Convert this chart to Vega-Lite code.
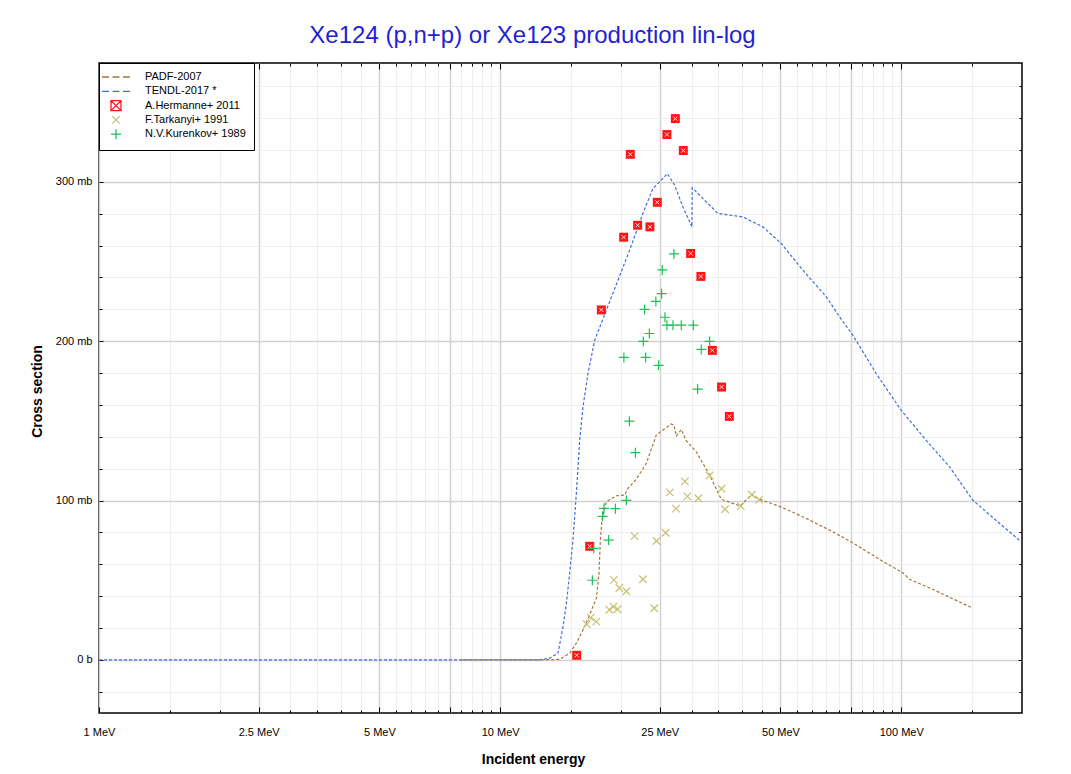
{
  "$schema": "https://vega.github.io/schema/vega-lite/v6.json",
  "width": 923,
  "height": 650,
  "autosize": "none",
  "padding": {"left": 99, "top": 63, "right": 49, "bottom": 61},
  "background": "white",
  "config": {"view": {"stroke": "black", "strokeWidth": 1.5}, "font": "Liberation Sans"},
  "title": {"text": "Xe124 (p,n+p) or Xe123 production lin-log", "fontSize": 24, "font": "Liberation Sans", "fontWeight": "normal", "color": "#1f1fd6", "anchor": "middle", "offset": 15, "dx": -28},
  "data": {"values": [
    {"s":"PADF-2007","e":8,"v":0},{"s":"PADF-2007","e":12,"v":0},{"s":"PADF-2007","e":13.5,"v":0.2},{"s":"PADF-2007","e":14.08,"v":0.4},{"s":"PADF-2007","e":14.91,"v":4.2},{"s":"PADF-2007","e":15.49,"v":10.5},{"s":"PADF-2007","e":16.25,"v":20.9},{"s":"PADF-2007","e":17.38,"v":38.7},{"s":"PADF-2007","e":17.64,"v":54.4},{"s":"PADF-2007","e":17.78,"v":75.2},{"s":"PADF-2007","e":17.94,"v":87.8},{"s":"PADF-2007","e":18.4,"v":99.2},{"s":"PADF-2007","e":19.49,"v":103},{"s":"PADF-2007","e":20.44,"v":103.4},{"s":"PADF-2007","e":20.83,"v":107.6},{"s":"PADF-2007","e":21.86,"v":113.5},{"s":"PADF-2007","e":23.14,"v":123.3},{"s":"PADF-2007","e":24.51,"v":141.1},{"s":"PADF-2007","e":25.46,"v":144.2},{"s":"PADF-2007","e":26.72,"v":148},{"s":"PADF-2007","e":27.12,"v":147.3},{"s":"PADF-2007","e":27.5,"v":140.4},{"s":"PADF-2007","e":28.29,"v":144.6},{"s":"PADF-2007","e":29.12,"v":137.5},{"s":"PADF-2007","e":30.83,"v":130.6},{"s":"PADF-2007","e":33.28,"v":116},{"s":"PADF-2007","e":35.59,"v":100.8},{"s":"PADF-2007","e":39.65,"v":96.6},{"s":"PADF-2007","e":42.36,"v":103.8},{"s":"PADF-2007","e":44.34,"v":100.8},{"s":"PADF-2007","e":50.22,"v":95.9},{"s":"PADF-2007","e":57.96,"v":88.8},{"s":"PADF-2007","e":67.5,"v":80.4},{"s":"PADF-2007","e":75.7,"v":73.5},{"s":"PADF-2007","e":88.3,"v":63.1},{"s":"PADF-2007","e":100.9,"v":54.7},{"s":"PADF-2007","e":104.8,"v":50.6},{"s":"PADF-2007","e":119.8,"v":44.3},{"s":"PADF-2007","e":149.3,"v":33},
    {"s":"TENDL-2017 *","e":1,"v":0},{"s":"TENDL-2017 *","e":12.5,"v":0},{"s":"TENDL-2017 *","e":13.29,"v":1.1},{"s":"TENDL-2017 *","e":13.94,"v":4.2},{"s":"TENDL-2017 *","e":14.35,"v":20.9},{"s":"TENDL-2017 *","e":14.63,"v":35.5},{"s":"TENDL-2017 *","e":14.91,"v":54.4},{"s":"TENDL-2017 *","e":15.19,"v":75.2},{"s":"TENDL-2017 *","e":15.49,"v":104.5},{"s":"TENDL-2017 *","e":15.79,"v":137.9},{"s":"TENDL-2017 *","e":16.09,"v":158.8},{"s":"TENDL-2017 *","e":16.56,"v":179.7},{"s":"TENDL-2017 *","e":17.21,"v":200.6},{"s":"TENDL-2017 *","e":18.4,"v":219.4},{"s":"TENDL-2017 *","e":19.67,"v":238.2},{"s":"TENDL-2017 *","e":21.03,"v":257.1},{"s":"TENDL-2017 *","e":22.7,"v":280.1},{"s":"TENDL-2017 *","e":24.03,"v":295.7},{"s":"TENDL-2017 *","e":24.98,"v":299.9},{"s":"TENDL-2017 *","e":26.12,"v":305.1},{"s":"TENDL-2017 *","e":27.23,"v":297.8},{"s":"TENDL-2017 *","e":28.56,"v":284.2},{"s":"TENDL-2017 *","e":30.07,"v":271.7},{"s":"TENDL-2017 *","e":30.12,"v":296.2},{"s":"TENDL-2017 *","e":34.9,"v":280.1},{"s":"TENDL-2017 *","e":40.29,"v":277.9},{"s":"TENDL-2017 *","e":45.18,"v":271.7},{"s":"TENDL-2017 *","e":50.22,"v":261.3},{"s":"TENDL-2017 *","e":56.85,"v":244.5},{"s":"TENDL-2017 *","e":65.03,"v":227.8},{"s":"TENDL-2017 *","e":70.2,"v":215.2},{"s":"TENDL-2017 *","e":75.7,"v":203.8},{"s":"TENDL-2017 *","e":86.6,"v":179.7},{"s":"TENDL-2017 *","e":99.9,"v":156.7},{"s":"TENDL-2017 *","e":115.3,"v":137.9},{"s":"TENDL-2017 *","e":131.9,"v":121.2},{"s":"TENDL-2017 *","e":150.7,"v":100.3},{"s":"TENDL-2017 *","e":175.7,"v":85.7},{"s":"TENDL-2017 *","e":198.9,"v":74.2},
    {"s":"A.Hermanne+ 2011","e":27.34,"v":339.6},{"s":"A.Hermanne+ 2011","e":26.05,"v":329.6},{"s":"A.Hermanne+ 2011","e":21.11,"v":317.2},{"s":"A.Hermanne+ 2011","e":28.62,"v":319.6},{"s":"A.Hermanne+ 2011","e":24.65,"v":287.1},{"s":"A.Hermanne+ 2011","e":22.02,"v":272.7},{"s":"A.Hermanne+ 2011","e":23.63,"v":271.7},{"s":"A.Hermanne+ 2011","e":20.32,"v":265.2},{"s":"A.Hermanne+ 2011","e":29.85,"v":255},{"s":"A.Hermanne+ 2011","e":31.66,"v":240.6},{"s":"A.Hermanne+ 2011","e":17.88,"v":219.6},{"s":"A.Hermanne+ 2011","e":33.81,"v":194.2},{"s":"A.Hermanne+ 2011","e":35.65,"v":171.2},{"s":"A.Hermanne+ 2011","e":37.27,"v":152.8},{"s":"A.Hermanne+ 2011","e":16.72,"v":71.3},{"s":"A.Hermanne+ 2011","e":15.52,"v":2.9},
    {"s":"F.Tarkanyi+ 1991","e":28.88,"v":112},{"s":"F.Tarkanyi+ 1991","e":26.5,"v":105.1},{"s":"F.Tarkanyi+ 1991","e":29.29,"v":102.6},{"s":"F.Tarkanyi+ 1991","e":31.19,"v":101.4},{"s":"F.Tarkanyi+ 1991","e":33.28,"v":115.7},{"s":"F.Tarkanyi+ 1991","e":35.65,"v":107.4},{"s":"F.Tarkanyi+ 1991","e":27.44,"v":94.9},{"s":"F.Tarkanyi+ 1991","e":36.37,"v":94.5},{"s":"F.Tarkanyi+ 1991","e":39.81,"v":96.5},{"s":"F.Tarkanyi+ 1991","e":42.43,"v":103.6},{"s":"F.Tarkanyi+ 1991","e":44.21,"v":100.6},{"s":"F.Tarkanyi+ 1991","e":21.64,"v":77.7},{"s":"F.Tarkanyi+ 1991","e":25.86,"v":79.8},{"s":"F.Tarkanyi+ 1991","e":24.55,"v":74.6},{"s":"F.Tarkanyi+ 1991","e":19.22,"v":50.2},{"s":"F.Tarkanyi+ 1991","e":22.7,"v":50.6},{"s":"F.Tarkanyi+ 1991","e":19.83,"v":45.1},{"s":"F.Tarkanyi+ 1991","e":20.64,"v":43.1},{"s":"F.Tarkanyi+ 1991","e":18.72,"v":31.5},{"s":"F.Tarkanyi+ 1991","e":19.16,"v":33.4},{"s":"F.Tarkanyi+ 1991","e":19.63,"v":31.8},{"s":"F.Tarkanyi+ 1991","e":24.23,"v":32.4},{"s":"F.Tarkanyi+ 1991","e":16.82,"v":26.5},{"s":"F.Tarkanyi+ 1991","e":16.44,"v":22.4},{"s":"F.Tarkanyi+ 1991","e":17.38,"v":24},
    {"s":"N.V.Kurenkov+ 1989","e":27.12,"v":254.7},{"s":"N.V.Kurenkov+ 1989","e":25.37,"v":244.7},{"s":"N.V.Kurenkov+ 1989","e":25.27,"v":229.8},{"s":"N.V.Kurenkov+ 1989","e":24.45,"v":224.9},{"s":"N.V.Kurenkov+ 1989","e":22.92,"v":219.9},{"s":"N.V.Kurenkov+ 1989","e":25.76,"v":215},{"s":"N.V.Kurenkov+ 1989","e":26.05,"v":210},{"s":"N.V.Kurenkov+ 1989","e":26.97,"v":210},{"s":"N.V.Kurenkov+ 1989","e":28.29,"v":210},{"s":"N.V.Kurenkov+ 1989","e":30.31,"v":210},{"s":"N.V.Kurenkov+ 1989","e":23.55,"v":204.8},{"s":"N.V.Kurenkov+ 1989","e":22.75,"v":199.8},{"s":"N.V.Kurenkov+ 1989","e":33.28,"v":199.8},{"s":"N.V.Kurenkov+ 1989","e":31.73,"v":194.8},{"s":"N.V.Kurenkov+ 1989","e":20.35,"v":189.8},{"s":"N.V.Kurenkov+ 1989","e":23.06,"v":189.8},{"s":"N.V.Kurenkov+ 1989","e":24.84,"v":184.8},{"s":"N.V.Kurenkov+ 1989","e":31.07,"v":169.9},{"s":"N.V.Kurenkov+ 1989","e":21.0,"v":149.8},{"s":"N.V.Kurenkov+ 1989","e":21.74,"v":130},{"s":"N.V.Kurenkov+ 1989","e":20.64,"v":100.1},{"s":"N.V.Kurenkov+ 1989","e":18.15,"v":95.1},{"s":"N.V.Kurenkov+ 1989","e":19.38,"v":94.9},{"s":"N.V.Kurenkov+ 1989","e":18.01,"v":90.1},{"s":"N.V.Kurenkov+ 1989","e":18.64,"v":75.2},{"s":"N.V.Kurenkov+ 1989","e":17.11,"v":70},{"s":"N.V.Kurenkov+ 1989","e":16.98,"v":50}
  ]},
  "resolve": {"axis": {"x": "independent", "y": "independent"}},
  "layer": [
    {
      "transform": [{"filter": "datum.s == 'TENDL-2017 *'"}],
      "mark": {"type": "line", "color": "#3d6fe0", "strokeWidth": 1.2, "strokeDash": [3, 2]},
      "encoding": {
        "x": {"field": "e", "type": "quantitative", "scale": {"type": "log", "domain": [1, 200], "nice": false}, "axis": {"orient": "bottom", "values": [1.5,2,3,3.5,4,4.5,5.5,6,6.5,7,8,8.5,9,9.5,15,20,30,35,40,45,55,60,65,70,80,85,90,95,150], "grid": true, "gridColor": "#eeeeee", "gridWidth": 1, "ticks": true, "tickSize": -3, "tickColor": "#000000", "labels": false, "domain": false, "title": null}},
        "y": {"field": "v", "type": "quantitative", "scale": {"domain": [-33.3, 374.5], "nice": false, "zero": false}, "axis": {"orient": "left", "values": [-20,20,40,60,80,120,140,160,180,220,240,260,280,320,340,360], "grid": true, "gridColor": "#eeeeee", "gridWidth": 1, "ticks": true, "tickSize": -3, "tickColor": "#000000", "labels": false, "domain": false, "title": null}}
      }
    },
    {
      "transform": [{"filter": "datum.s == 'PADF-2007'"}],
      "mark": {"type": "line", "color": "#a8763e", "strokeWidth": 1.2, "strokeDash": [3, 2]},
      "encoding": {
        "x": {"field": "e", "type": "quantitative", "axis": {"orient": "bottom", "values": [1,2.5,5,7.5,10,25,50,75,100], "grid": true, "gridColor": "#d2d2d2", "gridWidth": 1.5, "ticks": true, "tickSize": -6, "tickColor": "#000000", "labels": false, "domain": false, "title": null}},
        "y": {"field": "v", "type": "quantitative", "axis": {"orient": "left", "values": [0,100,200,300], "grid": true, "gridColor": "#d2d2d2", "gridWidth": 1.5, "ticks": true, "tickSize": -4, "tickColor": "#000000", "labels": false, "domain": false, "title": null}}
      }
    },
    {
      "transform": [{"filter": "datum.s == 'A.Hermanne+ 2011'"}],
      "mark": {"type": "point", "shape": "square", "filled": true, "color": "#ff1414", "size": 80, "opacity": 1},
      "encoding": {
        "x": {"field": "e", "type": "quantitative", "axis": {"orient": "bottom", "values": [1,2.5,5,10,25,50,100], "grid": false, "ticks": false, "tickSize": 0, "labels": true, "labelFlush": false, "labelExpr": "datum.value + ' MeV'", "labelFontSize": 11, "labelColor": "#000000", "labelPadding": 13, "domain": false, "title": "Incident energy", "titleFontSize": 14, "titleFontWeight": "bold", "titleColor": "#000000", "titlePadding": 15, "titleX": 434}},
        "y": {"field": "v", "type": "quantitative", "axis": {"orient": "left", "values": [0,100,200,300], "grid": false, "ticks": false, "tickSize": 0, "labels": true, "labelExpr": "datum.value == 0 ? '0 b' : datum.value + ' mb'", "labelFontSize": 11, "labelColor": "#000000", "labelPadding": 7, "domain": false, "title": "Cross section", "titleFontSize": 14, "titleFontWeight": "bold", "titleColor": "#000000", "titlePadding": 11, "titleY": 328}}
      }
    },
    {
      "transform": [{"filter": "datum.s == 'A.Hermanne+ 2011'"}],
      "mark": {"type": "point", "shape": "M-1,-1L1,1M1,-1L-1,1", "filled": false, "color": "#ffffff", "size": 16, "strokeWidth": 1, "opacity": 0.9},
      "encoding": {
        "x": {"field": "e", "type": "quantitative", "axis": {"orient": "top", "values": [1.5,2,3,3.5,4,4.5,5.5,6,6.5,7,8,8.5,9,9.5,15,20,30,35,40,45,55,60,65,70,80,85,90,95,150], "grid": false, "ticks": true, "tickSize": -3, "tickColor": "#000000", "labels": false, "domain": false, "title": null}},
        "y": {"field": "v", "type": "quantitative", "axis": {"orient": "right", "values": [-20,20,40,60,80,120,140,160,180,220,240,260,280,320,340,360], "grid": false, "ticks": true, "tickSize": -3, "tickColor": "#000000", "labels": false, "domain": false, "title": null}}
      }
    },
    {
      "transform": [{"filter": "datum.s == 'F.Tarkanyi+ 1991' || datum.s == 'N.V.Kurenkov+ 1989'"}],
      "mark": {"type": "point", "filled": false, "size": 100, "strokeWidth": 1.2, "opacity": 1},
      "encoding": {
        "x": {"field": "e", "type": "quantitative", "axis": {"orient": "top", "values": [1,2.5,5,7.5,10,25,50,75,100], "grid": false, "ticks": true, "tickSize": -6, "tickColor": "#000000", "labels": false, "domain": false, "title": null}},
        "y": {"field": "v", "type": "quantitative", "axis": {"orient": "right", "values": [0,100,200,300], "grid": false, "ticks": true, "tickSize": -4, "tickColor": "#000000", "labels": false, "domain": false, "title": null}},
        "color": {"field": "s", "type": "nominal", "scale": {"domain": ["PADF-2007", "TENDL-2017 *", "A.Hermanne+ 2011", "F.Tarkanyi+ 1991", "N.V.Kurenkov+ 1989"], "range": ["#a8763e", "#3d6fe0", "#ff1414", "#c9c174", "#1fbf5a"]},
          "legend": {"title": null, "orient": "none", "legendX": 0, "legendY": 0, "padding": 8, "labelFontSize": 11, "labelFont": "Liberation Sans", "labelColor": "#000000", "strokeColor": "#000000", "fillColor": "#ffffff", "cornerRadius": 0, "rowPadding": -1.7, "symbolOffset": 3, "labelOffset": 23, "symbolStrokeWidth": 1.3, "symbolSize": 100,
            "encode": {"symbols": {"update": {"strokeWidth": {"signal": "datum.value == 'PADF-2007' || datum.value == 'TENDL-2017 *' ? 2 : 1.1"}}}}}},
        "shape": {"field": "s", "type": "nominal", "scale": {"domain": ["PADF-2007", "TENDL-2017 *", "A.Hermanne+ 2011", "F.Tarkanyi+ 1991", "N.V.Kurenkov+ 1989"], "range": ["M0,-1M0,1M-2.8,0H-1.4M-0.7,0H0.7M1.4,0H2.8", "M0,-1M0,1M-2.8,0H-1.4M-0.7,0H0.7M1.4,0H2.8", "M-2.8,0M2.8,0M-1,-1H1V1H-1ZM-1,-1L1,1M1,-1L-1,1", "M-2.8,0M2.8,0M-0.75,-0.75L0.75,0.75M0.75,-0.75L-0.75,0.75M0,-1M0,1", "M-2.8,0M2.8,0M-1,0H1M0,-1V1"]}}
      }
    }
  ]
}
